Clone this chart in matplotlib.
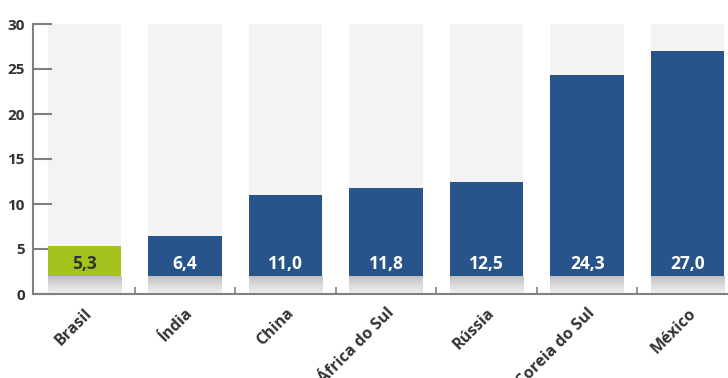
import matplotlib
matplotlib.use('Agg')
import matplotlib.pyplot as plt
import matplotlib.transforms as mtransforms
from matplotlib.colors import LinearSegmentedColormap
import numpy as np

# valeurs
paises = ['Brasil', 'Índia', 'China', 'África do Sul', 'Rússia', 'Coreia do Sul', 'México']
valores = [5.3, 6.4, 11.0, 11.8, 12.5, 24.3, 27.0]
rotulos = ['5,3', '6,4', '11,0', '11,8', '12,5', '24,3', '27,0']
cores = ['#a5c31d', '#27558b', '#27558b', '#27558b', '#27558b', '#27558b', '#27558b']
cor_rotulo = ['#333333', 'white', 'white', 'white', 'white', 'white', 'white']

plt.rcParams['font.family'] = ['Open Sans', 'DejaVu Sans']

fig = plt.figure(figsize=(7.28, 3.78), dpi=100)
ax = fig.add_axes([33 / 728, 84 / 378, 695 / 728, 270 / 378])

x = np.arange(len(paises))
largura = 0.73

# colunas cinza de fundo
ax.bar(x, [30] * len(x), width=largura, color='#f3f3f3', zorder=1)
# barras
ax.bar(x, valores, width=largura, color=cores, zorder=2)

# sombra em degrade na base das barras
grad = np.linspace(0, 1, 50).reshape(-1, 1)
cmap_sombra = LinearSegmentedColormap.from_list('s', ['#f2f2f2', '#dcdadc', '#c3c0c3'])
for xi in x:
    ax.imshow(grad, extent=(xi - largura / 2, xi + largura / 2, 0, 2),
              cmap=cmap_sombra, aspect='auto', origin='lower', zorder=3)

for xi, r, c in zip(x, rotulos, cor_rotulo):
    ax.text(xi, 3.35, r, ha='center', va='center', color=c,
            fontsize=12.5, fontweight='bold', zorder=4)

ax.set_xlim(-0.51, 6.4)
ax.set_ylim(0, 30)
ax.set_yticks([0, 5, 10, 15, 20, 25, 30])

ax.set_xticks(x)
ax.set_xticklabels(paises, rotation=45, ha='right', rotation_mode='anchor',
                   fontsize=11.5, fontweight='bold', color='#333333')
desloc = mtransforms.ScaledTranslation(9 / 100, 0, fig.dpi_scale_trans)
for lbl in ax.get_xticklabels():
    lbl.set_transform(lbl.get_transform() + desloc)
ax.tick_params(axis='x', length=0, pad=8)
ax.set_xticks(x[:-1] + 0.5, minor=True)
ax.tick_params(axis='x', which='minor', direction='in', length=5, width=1.2, color='#808080')

ax.tick_params(axis='y', direction='in', length=14, width=1.5, color='#808080',
               labelsize=11, labelcolor='#333333', pad=6)
for lbl in ax.get_yticklabels():
    lbl.set_fontweight('bold')

for s in ['top', 'right']:
    ax.spines[s].set_visible(False)
for s in ['left', 'bottom']:
    ax.spines[s].set_color('#808080')
    ax.spines[s].set_linewidth(1.5)
    ax.spines[s].set_zorder(5)

fig.savefig('out.png', dpi=100)
